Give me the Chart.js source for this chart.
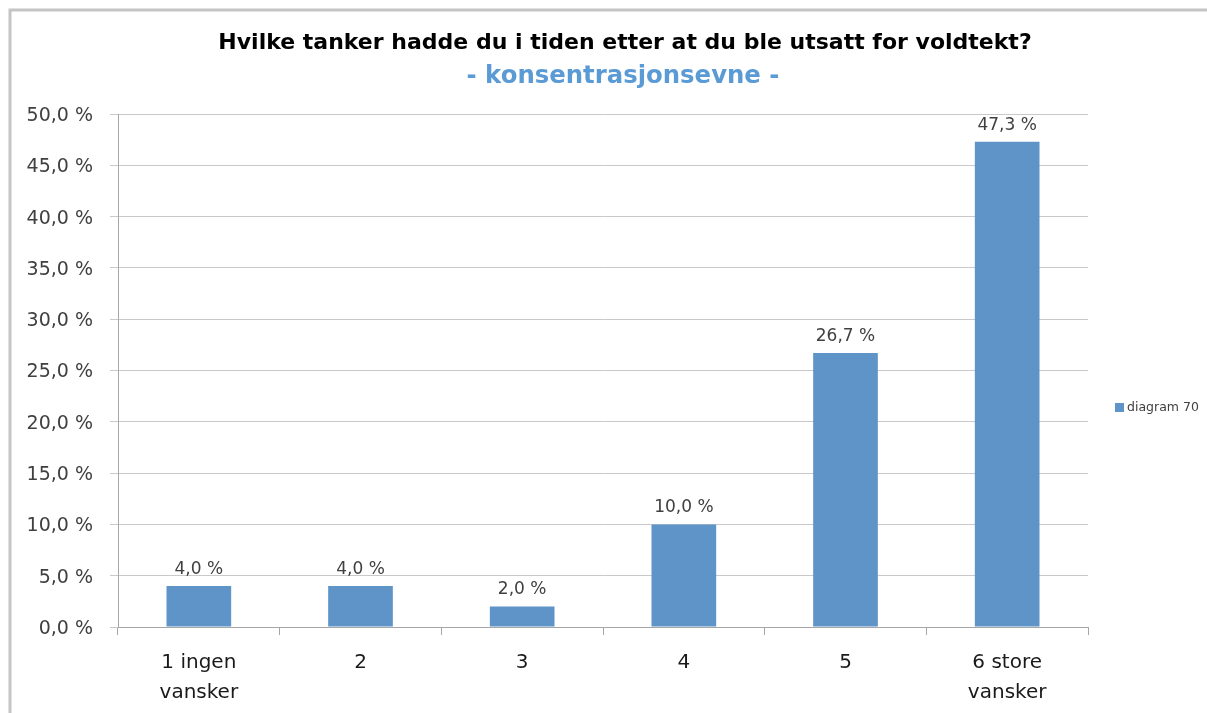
<!DOCTYPE html>
<html>
<head>
<meta charset="utf-8">
<script src="https://cdn.jsdelivr.net/npm/chart.js@4.4.0/dist/chart.umd.min.js"></script>
<style>
  html, body { margin: 0; padding: 0; background: #fff; }
  #wrap { width: 1207px; height: 713px; position: relative; }
</style>
</head>
<body>
<div id="wrap"><canvas id="c" width="1207" height="713"></canvas></div>
<script>
const titleText = 'Hvilke tanker hadde du i tiden etter at du ble utsatt for voldtekt?';
const subtitleText = '- konsentrasjonsevne -';
const categories = [['1 ingen', 'vansker'], '2', '3', '4', '5', ['6 store', 'vansker']];
const seriesName = 'diagram 70';
const values = [4.0, 4.0, 2.0, 10.0, 26.7, 47.3];
const yMin = 0, yMax = 50, yStep = 5;

const FONT = '"DejaVu Sans", sans-serif';
const barColor = '#5E94C7';
const fmt = v => v.toFixed(1).replace('.', ',') + ' %';

const decor = {
  id: 'decor',
  beforeDraw(chart) {
    const ctx = chart.ctx;
    ctx.save();
    ctx.fillStyle = '#fff';
    ctx.fillRect(0, 0, chart.width, chart.height);
    ctx.strokeStyle = '#c4c4c4';
    ctx.lineWidth = 3;
    ctx.beginPath();
    ctx.moveTo(10, chart.height);
    ctx.lineTo(10, 10);
    ctx.lineTo(chart.width, 10);
    ctx.stroke();
    ctx.restore();
  },
  afterDraw(chart) {
    const ctx = chart.ctx;
    ctx.save();
    // title
    ctx.textAlign = 'center';
    ctx.textBaseline = 'middle';
    ctx.fillStyle = '#000';
    let size = 20;
    ctx.font = 'bold ' + size + 'px ' + FONT;
    size = size * 814 / ctx.measureText(titleText).width;
    ctx.font = 'bold ' + size + 'px ' + FONT;
    ctx.fillText(titleText, 625, 43);
    let s2 = 22;
    ctx.font = 'bold ' + s2 + 'px ' + FONT;
    s2 = s2 * 313 / ctx.measureText(subtitleText).width;
    ctx.font = 'bold ' + s2 + 'px ' + FONT;
    ctx.fillStyle = '#5B9BD5';
    ctx.fillText(subtitleText, 623, 77);

    // data labels
    const meta = chart.getDatasetMeta(0);
    ctx.font = '17px ' + FONT;
    ctx.fillStyle = '#404040';
    ctx.textBaseline = 'bottom';
    meta.data.forEach((bar, i) => {
      ctx.fillText(fmt(values[i]), bar.x, bar.y - 8);
    });

    // legend
    const ds = chart.data.datasets[0];
    ctx.fillStyle = ds.backgroundColor;
    ctx.fillRect(1115, 403, 9, 9);
    ctx.fillStyle = '#404040';
    ctx.font = '12.5px ' + FONT;
    ctx.textAlign = 'left';
    ctx.textBaseline = 'middle';
    ctx.fillText(ds.label, 1127, 408);
    ctx.restore();
  }
};

new Chart(document.getElementById('c'), {
  type: 'bar',
  data: {
    labels: categories,
    datasets: [{
      label: seriesName,
      data: values,
      backgroundColor: barColor,
      borderWidth: 0,
      categoryPercentage: 1.0,
      barPercentage: 0.4
    }]
  },
  options: {
    responsive: false,
    animation: false,
    devicePixelRatio: 1,
    layout: { padding: { top: 114, right: 119, bottom: 0, left: 0 } },
    plugins: { legend: { display: false }, title: { display: false }, tooltip: { enabled: false } },
    scales: {
      x: {
        offset: true,
        grid: { display: true, drawOnChartArea: false, offset: true, tickLength: 8, color: '#a6a6a6' },
        border: { display: true, color: '#a6a6a6', width: 1 },
        ticks: { color: '#1a1a1a', font: { family: FONT, size: 20, lineHeight: 1.5 }, padding: 13, maxRotation: 0, autoSkip: false },
        afterFit(s) { s.height = 86; }
      },
      y: {
        min: yMin, max: yMax,
        ticks: { stepSize: yStep, color: '#404040', font: { family: FONT, size: 19 }, padding: 17, labelOffset: 2, callback: v => fmt(v) },
        grid: { color: '#c9c9c9', tickLength: 8, lineWidth: 1 },
        border: { display: true, color: '#a6a6a6', width: 1 },
        afterFit(s) { s.width = 118; }
      }
    }
  },
  plugins: [decor]
});
</script>
</body>
</html>
